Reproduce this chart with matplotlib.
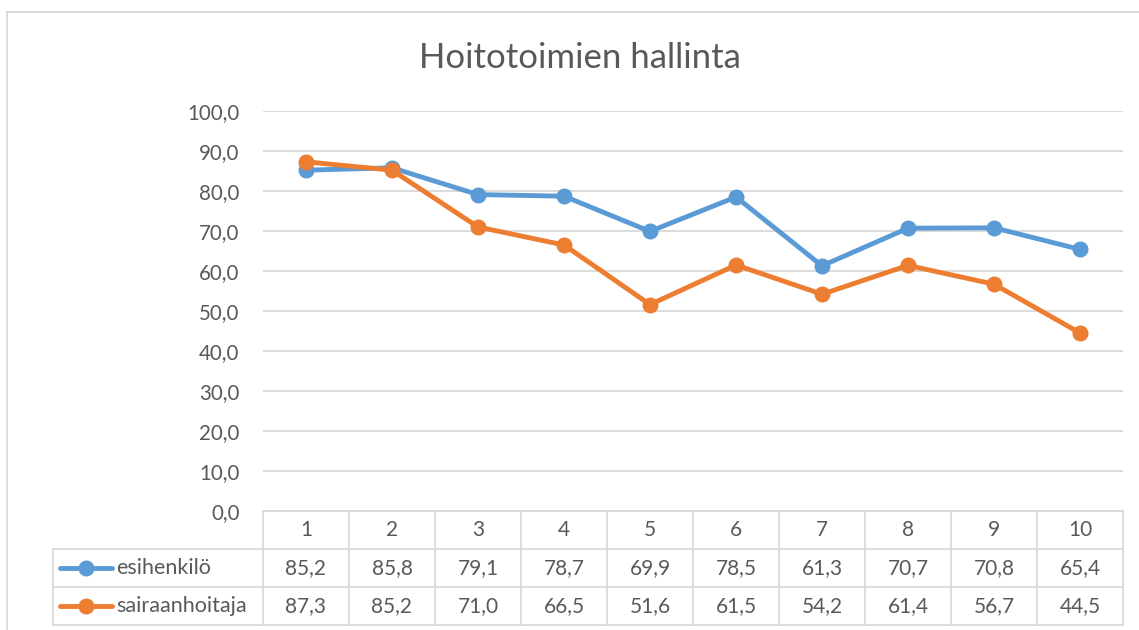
import matplotlib
matplotlib.use("Agg")
import matplotlib.pyplot as plt
from matplotlib.lines import Line2D

plt.rcParams['font.family'] = ['Lato', 'DejaVu Sans']

title = "Hoitotoimien hallinta"
categories = [1, 2, 3, 4, 5, 6, 7, 8, 9, 10]
series_names = ["esihenkilö", "sairaanhoitaja"]
esihenkilo = [85.2, 85.8, 79.1, 78.7, 69.9, 78.5, 61.3, 70.7, 70.8, 65.4]
sairaanhoitaja = [87.3, 85.2, 71.0, 66.5, 51.6, 61.5, 54.2, 61.4, 56.7, 44.5]
y_ticks = [0, 10, 20, 30, 40, 50, 60, 70, 80, 90, 100]

colors = ["#5B9BD5", "#ED7D31"]
text_color = "#595959"
grid_color = "#D9D9D9"

W, H = 1139, 630
fig = plt.figure(figsize=(W / 100, H / 100), dpi=100)

def fx(x):
    return x / W

def fy(y):
    return 1 - y / H

left_px, right_px, top_px, bot_px = 263, 1123, 111, 511
ax = fig.add_axes([fx(left_px), fy(bot_px), fx(right_px - left_px), (bot_px - top_px) / H])
ax.set_xlim(0.5, 10.5)
ax.set_ylim(0, 100)
ax.set_yticks(y_ticks)
ax.set_yticklabels([f"{v:.1f}".replace('.', ',') for v in y_ticks], color=text_color, fontsize=14.8)
ax.tick_params(axis='y', length=0, pad=17)
ax.set_xticks([])
for s in ['left', 'right', 'top']:
    ax.spines[s].set_visible(False)
ax.spines['bottom'].set_color(grid_color)
ax.spines['bottom'].set_linewidth(1.3)
ax.grid(axis='y', color=grid_color, linewidth=1.3)
ax.set_axisbelow(True)

data = [esihenkilo, sairaanhoitaja]
for vals, c in zip(data, colors):
    ax.plot(categories, vals, color=c, linewidth=3.5, marker='o', markersize=10.5,
            solid_capstyle='round', zorder=3)

# chart border
fig.add_artist(Line2D([fx(7), fx(7)], [fy(12), fy(H)], color=grid_color, linewidth=1.3))
fig.add_artist(Line2D([fx(7), fx(W)], [fy(12), fy(12)], color=grid_color, linewidth=1.3))

# title
fig.text(fx(580), fy(58), title, ha='center', va='center', fontsize=25, color=text_color)

# data table
col_w = (right_px - left_px) / len(categories)
row_y = [511, 549, 587, 625]
tbl_left = 53

def hline(x0, x1, y):
    fig.add_artist(Line2D([fx(x0), fx(x1)], [fy(y), fy(y)], color=grid_color, linewidth=1.3))

def vline(x, y0, y1):
    fig.add_artist(Line2D([fx(x), fx(x)], [fy(y0), fy(y1)], color=grid_color, linewidth=1.3))

for y in row_y[1:]:
    hline(tbl_left, right_px, y)
for i in range(len(categories) + 1):
    vline(left_px + i * col_w, row_y[0], row_y[3])
vline(tbl_left, row_y[1], row_y[3])

for i, cat in enumerate(categories):
    cx = left_px + (i + 0.5) * col_w
    fig.text(fx(cx), fy((row_y[0] + row_y[1]) / 2), str(cat), ha='center', va='center',
             fontsize=15, color=text_color)
    for r, vals in enumerate(data):
        cy = (row_y[r + 1] + row_y[r + 2]) / 2
        fig.text(fx(cx), fy(cy), f"{vals[i]:.1f}".replace('.', ','), ha='center', va='center',
                 fontsize=15, color=text_color)

for r, (name, c) in enumerate(zip(series_names, colors)):
    cy = (row_y[r + 1] + row_y[r + 2]) / 2
    fig.add_artist(Line2D([fx(60), fx(112)], [fy(cy), fy(cy)], color=c, linewidth=3.5,
                          marker=None, solid_capstyle='round'))
    fig.add_artist(Line2D([fx(86)], [fy(cy)], color=c, marker='o', markersize=10.5, linestyle='none'))
    fig.text(fx(116), fy(cy), name, ha='left', va='center', fontsize=15.5, color=text_color)

fig.savefig("out.png", dpi=100, facecolor='white')
